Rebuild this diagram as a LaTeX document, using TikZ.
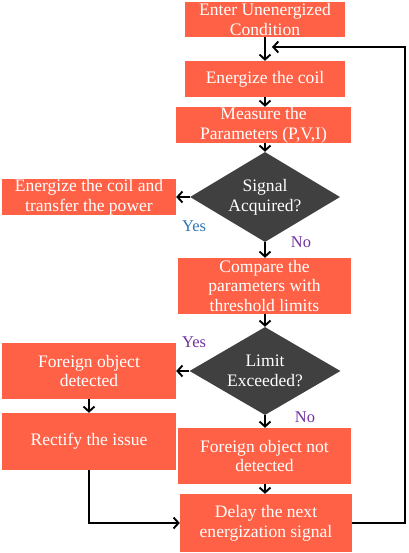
\documentclass[tikz,border=0pt]{standalone}
\usepackage{fontspec}
\setmainfont{Liberation Serif}
\usetikzlibrary{shapes.geometric,arrows.meta}
\definecolor{boxred}{RGB}{255,97,70}
\definecolor{diagray}{RGB}{64,64,64}
\definecolor{yesblue}{RGB}{46,117,182}
\definecolor{labpurple}{RGB}{112,48,160}
\tikzset{
  stepbox/.style={rectangle, fill=boxred, text=white, align=center, inner sep=0pt,
    font=\fontsize{17.6}{20}\selectfont},
  decision/.style={diamond, fill=diagray, text=white, align=center, inner sep=0pt, aspect=1.67,
    font=\fontsize{17.6}{20}\selectfont},
  flow/.style={line width=1.9bp, -{Straight Barb[length=5bp,width=11bp,line width=1.9bp]}},
  lab/.style={font=\fontsize{16.5}{19}\selectfont, inner sep=0pt}
}
\begin{document}
\begin{tikzpicture}[x=1bp,y=-1bp]
\useasboundingbox (0,0) rectangle (408,553);
\node[stepbox, minimum width=160bp, minimum height=35bp] (b1) at (265,19.5) {Enter Unenergized\\Condition};
\node[stepbox, minimum width=160bp, minimum height=36bp] (b2) at (265,79) {Energize the coil};
\node[stepbox, minimum width=175bp, minimum height=36bp] (b3) at (263.5,125) {Measure the\\Parameters (P,V,I)};
\node[decision, minimum width=150bp, minimum height=90bp] (d1) at (265,197) {Signal\\Acquired?};
\node[stepbox, minimum width=174bp, minimum height=36bp] (b5) at (89,197) {Energize the coil and\\transfer the power};
\node[stepbox, minimum width=173bp, minimum height=56bp] (b7) at (264.5,286) {Compare the\\parameters with\\threshold limits};
\node[decision, minimum width=151bp, minimum height=88bp] (d2) at (265,371) {Limit\\Exceeded?};
\node[stepbox, minimum width=174bp, minimum height=56bp] (b10) at (89,371) {Foreign object\\detected};
\node[stepbox, minimum width=174bp, minimum height=57bp] (b11) at (89,441.5) {Rectify the issue};
\node[stepbox, minimum width=173bp, minimum height=56bp] (b13) at (264.5,456) {Foreign object not\\detected};
\node[stepbox, minimum width=172bp, minimum height=58bp] (b14) at (266,523) {Delay the next\\energization signal};
\node[lab, text=yesblue] (y1) at (194,226) {Yes};
\node[lab, text=labpurple] (n1) at (301,242) {No};
\node[lab, text=labpurple] (y2) at (194,342) {Yes};
\node[lab, text=labpurple] (n2) at (305,417) {No};
\coordinate (loopin) at (272,47);
\draw[flow] (b1.south -| 265,0) -- (b2.north -| 265,0);
\draw[flow] (b2.south -| 265,0) -- (b3.north -| 265,0);
\draw[flow] (b3.south -| 265,0) -- (d1.north);
\draw[flow] (d1.west) -- (b5.east);
\draw[flow] (d1.south) -- (b7.north -| 265,0);
\draw[flow] (b7.south -| 265,0) -- (d2.north);
\draw[flow] (d2.west) -- (b10.east);
\draw[flow] (d2.south) -- (b13.north -| 265,0);
\draw[flow] (b13.south -| 265,0) -- (b14.north -| 265,0);
\draw[flow] (b10.south) -- (b11.north);
\draw[flow] (b11.south) |- (b14.west);
\draw[flow] (b14.east) -| (405,47) -- (loopin);
\end{tikzpicture}
\end{document}
